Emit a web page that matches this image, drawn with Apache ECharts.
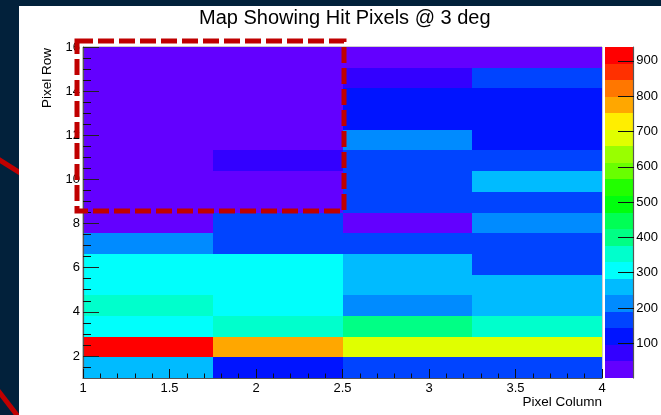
<!DOCTYPE html>
<html><head><meta charset="utf-8">
<script src="https://cdn.jsdelivr.net/npm/echarts@6/dist/echarts.min.js"></script>
<style>html,body{margin:0;padding:0;background:#02213b;}#c{width:661px;height:415px;}</style>
</head><body><div id="c"></div>
<script>
const chartTitle = 'Map Showing Hit Pixels @ 3 deg';
const xName = 'Pixel Column';
const yName = 'Pixel Row';
// bin edges
const xEdges = [1, 1.75, 2.5, 3.25, 4];
const yEdges = [1, 1.9375, 2.875, 3.8125, 4.75, 5.6875, 6.625, 7.5625, 8.5, 9.4375, 10.375, 11.3125, 12.25, 13.1875, 14.125, 15.0625, 16];
// hits per bin, row 1 (bottom) to row 16 (top)
const col1 = [260, 939, 305, 350, 305, 305, 210, 10, 10, 10, 10, 10, 10, 10, 10, 2];
const col2 = [120, 775, 350, 305, 305, 305, 165, 165, 10, 10, 70, 10, 10, 10, 10, 10];
const col3 = [165, 680, 400, 210, 260, 260, 165, 10, 165, 165, 165, 210, 120, 120, 70, 10];
const col4 = [165, 680, 350, 260, 260, 165, 165, 210, 165, 260, 165, 120, 120, 120, 165, 10];
const zMin = 2, zMax = 939;
const xTickLabels = [1, 1.5, 2, 2.5, 3, 3.5, 4];
const yTickLabels = [2, 4, 6, 8, 10, 12, 14, 16];
const zTickLabels = [100, 200, 300, 400, 500, 600, 700, 800, 900];
const palette = ['#6300FF','#3300FF','#0014FF','#0044FF','#008BFF','#00BBFF','#00FFFC','#00FFCC','#00FF85','#00FF55',
                 '#00FF0E','#22FF00','#69FF00','#99FF00','#E0FF00','#FFEE00','#FFA700','#FF7700','#FF3000','#FF0000'];
const nLevels = palette.length;

const yMinorTicks = [];
for (let v = 1.5; v < 16; v += 0.5) if (yTickLabels.indexOf(v) < 0) yMinorTicks.push(v);

function levelOf(v) { return Math.max(0, Math.min(nLevels - 1, Math.floor((v - zMin) / (zMax - zMin) * nLevels))); }

const cells = [];
[col1, col2, col3, col4].forEach((col, c) => col.forEach((v, r) => cells.push([c, r, v])));
const bands = [];
for (let k = 0; k < nLevels; k++) bands.push([k, zMin + k * (zMax - zMin) / nLevels, zMin + (k + 1) * (zMax - zMin) / nLevels]);

function pixRect(p0, p1) {
  const x0 = Math.round(p0[0]), y0 = Math.round(p0[1]), x1 = Math.round(p1[0]), y1 = Math.round(p1[1]);
  return {x: x0, y: y0, width: x1 - x0, height: y1 - y0};
}

const FONT = 'Liberation Sans, Arial, Helvetica, sans-serif';
const axisLineStyle = {color: '#555', width: 1.2};
const chart = echarts.init(document.getElementById('c'), null, {renderer: 'canvas'});
chart.setOption({
  backgroundColor: 'transparent',
  animation: false,
  title: {text: chartTitle, left: 199, top: 8, padding: 0,
    textStyle: {fontSize: 20, fontWeight: 'normal', color: '#000', fontFamily: FONT}},
  grid: [
    {left: 83, top: 47, width: 519, height: 331, show: true, borderColor: '#9a9a9a', borderWidth: 1, backgroundColor: 'transparent'},
    {left: 605, top: 47, width: 29, height: 331}
  ],
  xAxis: [
    {gridIndex: 0, type: 'value', min: 1, max: 4, interval: 0.5, z: 10,
     axisLine: {show: true, lineStyle: axisLineStyle},
     axisTick: {show: true, inside: true, length: 9, lineStyle: {color: '#111'}},
     minorTick: {show: true, splitNumber: 5, length: 4.5, lineStyle: {color: '#111'}},
     axisLabel: {margin: 4, color: '#000', fontSize: 13, fontFamily: FONT, customValues: xTickLabels},
     splitLine: {show: false}, minorSplitLine: {show: false}},
    {gridIndex: 1, type: 'value', min: 0, max: 1, show: false}
  ],
  yAxis: [
    {gridIndex: 0, type: 'value', min: 1, max: 16, position: 'left', z: 10,
     axisLine: {show: true, lineStyle: axisLineStyle},
     axisTick: {show: true, inside: true, length: 16, customValues: yTickLabels, lineStyle: {color: '#222'}},
     axisLabel: {customValues: yTickLabels, margin: 3, color: '#000', fontSize: 13, fontFamily: FONT},
     splitLine: {show: false}},
    {gridIndex: 0, type: 'value', min: 1, max: 16, position: 'left', offset: 0, z: 10,
     axisLine: {show: false},
     axisTick: {show: true, inside: true, length: 8, customValues: yMinorTicks, lineStyle: {color: '#111'}},
     axisLabel: {show: false}, splitLine: {show: false}},
    {gridIndex: 1, type: 'value', min: zMin, max: zMax, position: 'left', offset: -29, z: 10,
     axisLine: {show: false},
     axisTick: {show: true, inside: false, length: 16, customValues: zTickLabels, lineStyle: {color: '#111'}},
     axisLabel: {show: false}, splitLine: {show: false}},
    {gridIndex: 1, type: 'value', min: zMin, max: zMax, position: 'right', z: 10,
     axisLine: {show: true, lineStyle: axisLineStyle},
     axisTick: {show: false},
     axisLabel: {customValues: zTickLabels, margin: 3, color: '#000', fontSize: 13, fontFamily: FONT},
     splitLine: {show: false}}
  ],
  series: [
    {type: 'custom', xAxisIndex: 0, yAxisIndex: 0, data: cells, clip: false,
     renderItem: function (params, api) {
       const c = api.value(0), r = api.value(1), v = api.value(2);
       const p0 = api.coord([xEdges[c], yEdges[r + 1]]);
       const p1 = api.coord([xEdges[c + 1], yEdges[r]]);
       return {type: 'rect', shape: pixRect(p0, p1), style: {fill: palette[levelOf(v)]}};
     }},
    {type: 'custom', xAxisIndex: 1, yAxisIndex: 3, data: bands, clip: false,
     renderItem: function (params, api) {
       const k = api.value(0);
       const p0 = api.coord([0, api.value(2)]);
       const p1 = api.coord([1, api.value(1)]);
       return {type: 'rect', shape: pixRect(p0, p1), style: {fill: palette[k]}};
     }}
  ],
  graphic: [
    {type: 'line', z: -20, shape: {x1: -10, y1: 154, x2: 60, y2: 198}, style: {stroke: '#C00000', lineWidth: 5}},
    {type: 'line', z: -20, shape: {x1: -10, y1: 380, x2: 30, y2: 432}, style: {stroke: '#C00000', lineWidth: 5}},
    {type: 'rect', z: -10, shape: {x: 19, y: 6, width: 642, height: 409}, style: {fill: '#ffffff'}},
    {type: 'text', z: 20, x: 47, y: 48, rotation: Math.PI / 2,
     style: {text: yName, fontSize: 13.5, fontFamily: FONT, fill: '#000', align: 'right', verticalAlign: 'middle'}},
    {type: 'text', z: 20, x: 602, y: 402,
     style: {text: xName, fontSize: 13.5, fontFamily: FONT, fill: '#000', align: 'right', verticalAlign: 'middle'}},
    {type: 'rect', z: 100, shape: {x: 77, y: 41, width: 267, height: 170},
     style: {fill: null, stroke: '#C00000', lineWidth: 5, lineDash: [16, 5]}}
  ]
});
</script></body></html>
